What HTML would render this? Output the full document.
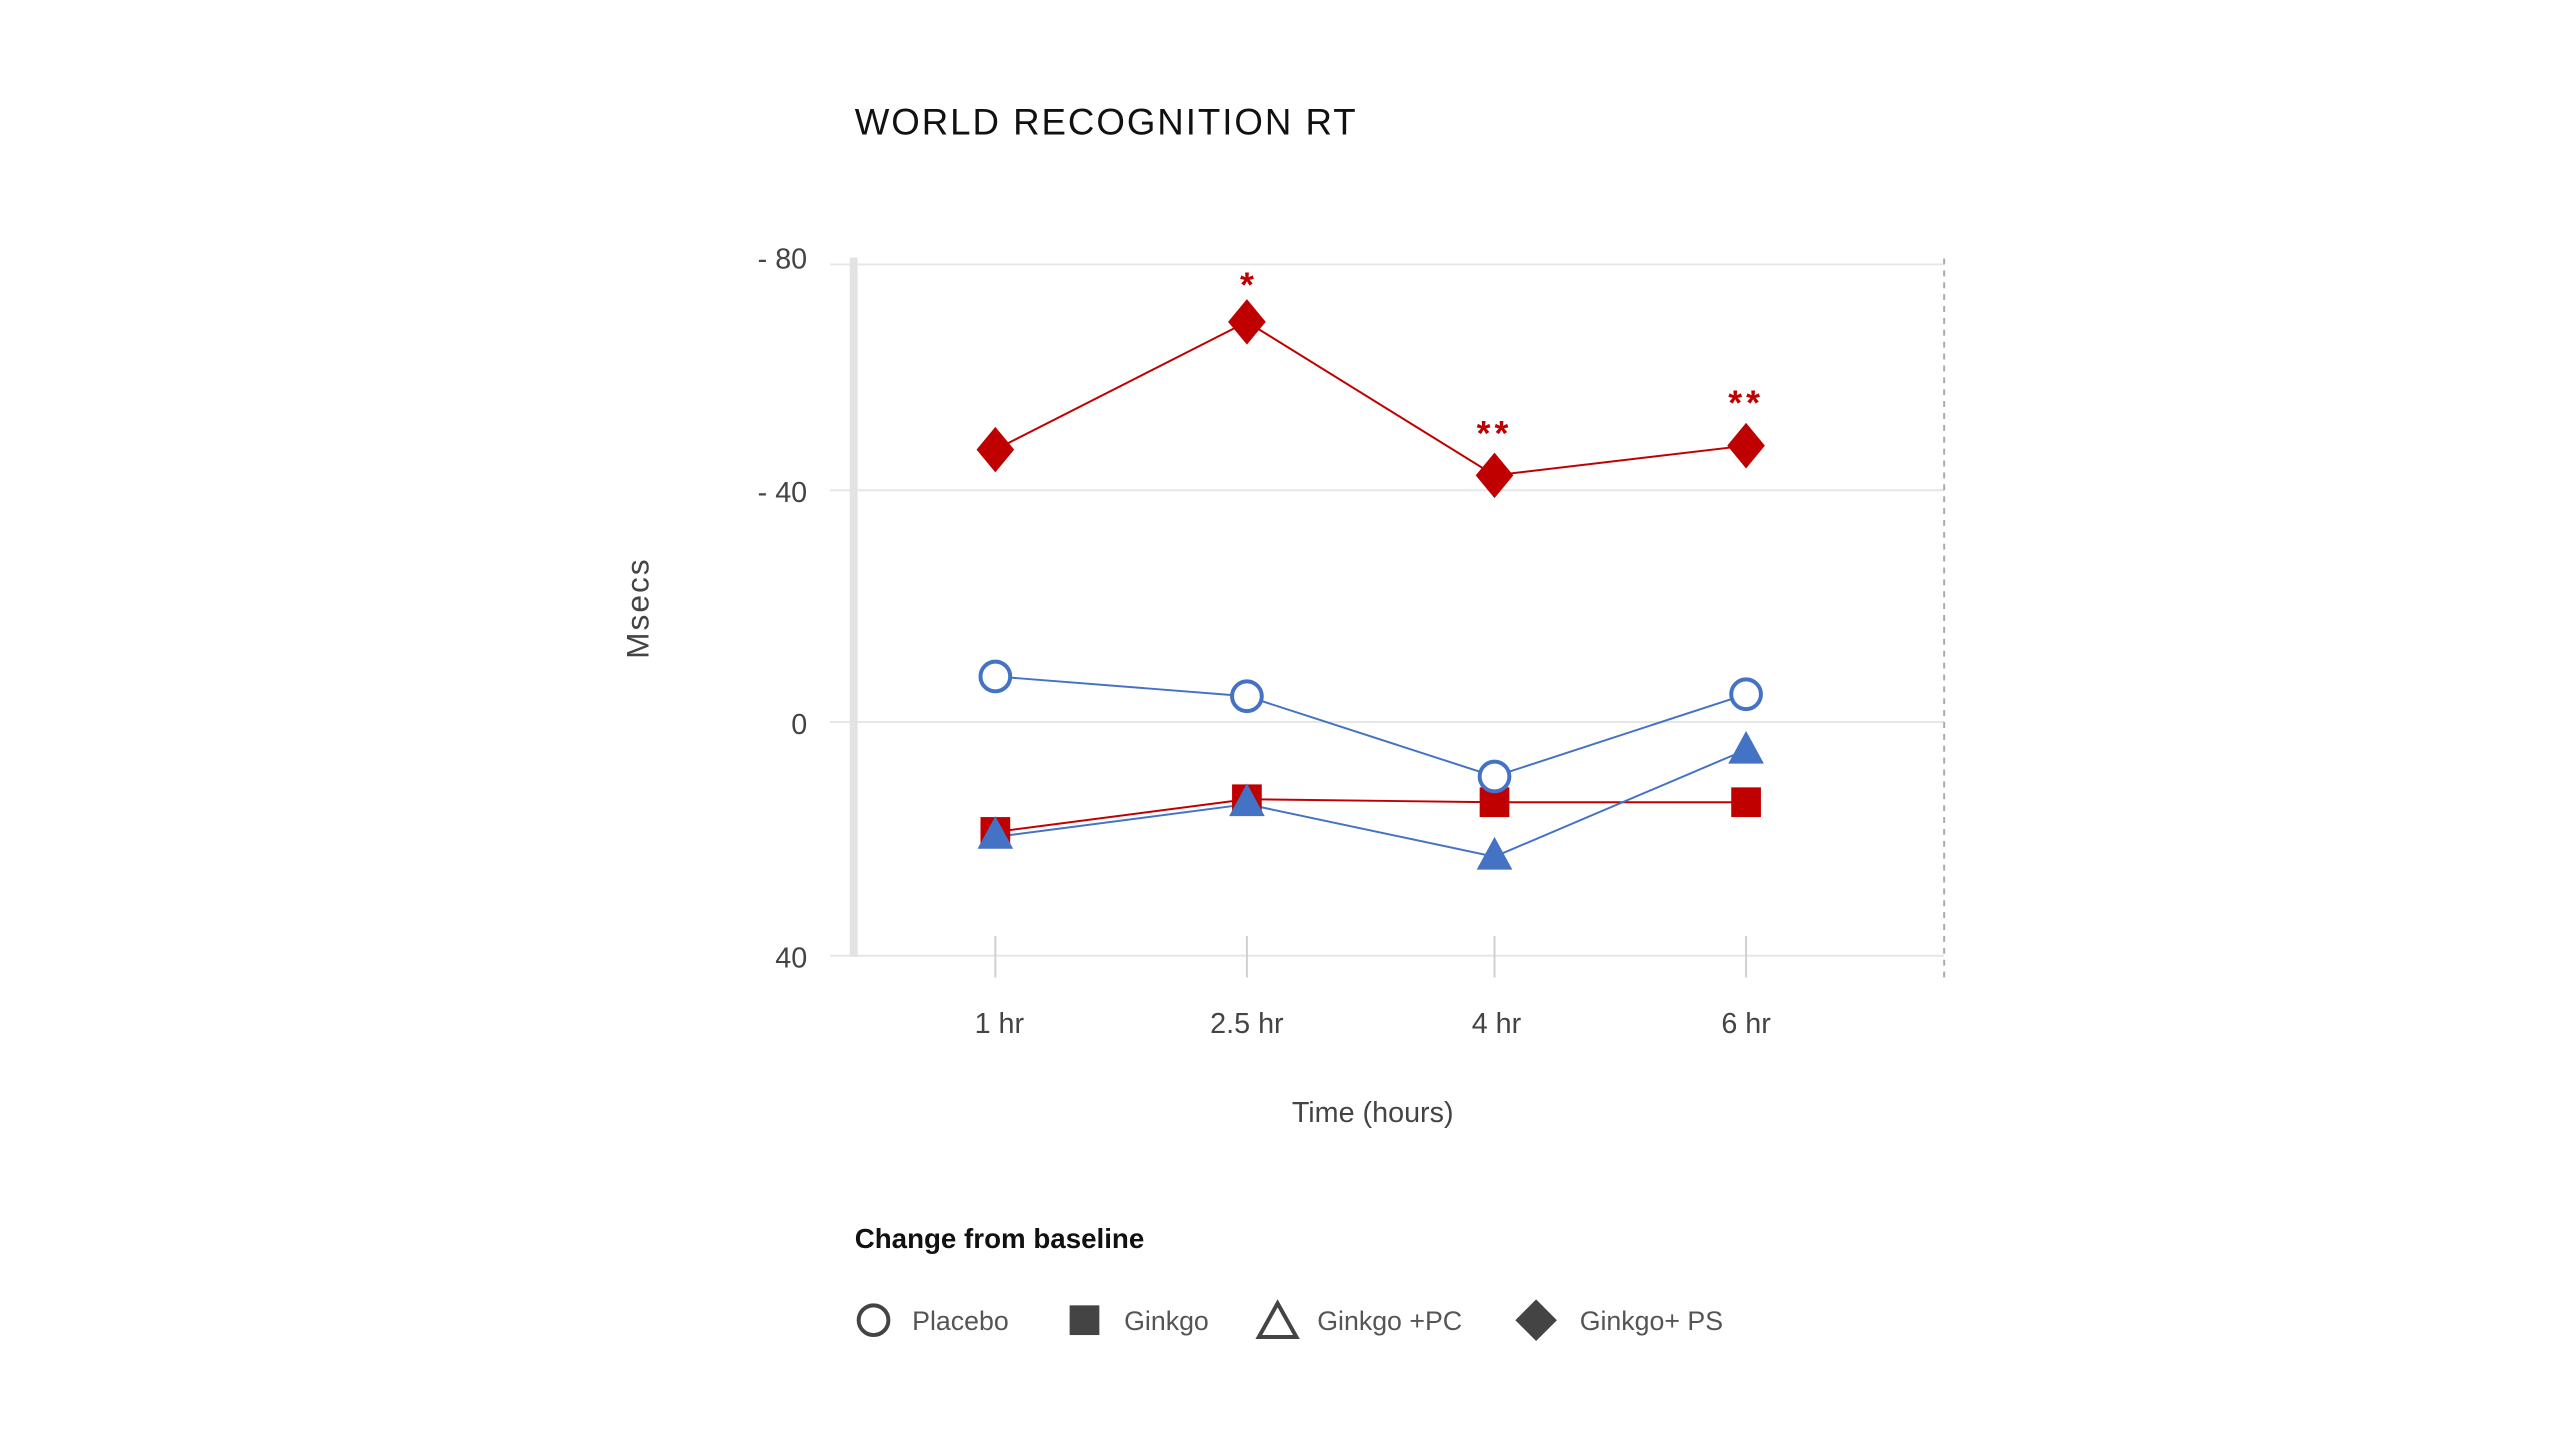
<!DOCTYPE html>
<html><head><meta charset="utf-8"><style>
html,body{margin:0;padding:0;background:#fff;}
svg{display:block;}
text{font-family:"Liberation Sans",sans-serif;}
</style></head><body>
<svg width="2560" height="1440" viewBox="0 0 2560 1440" xmlns="http://www.w3.org/2000/svg">
<g transform="scale(0.9904)">
<text x="863" y="136" font-size="37" fill="#111" letter-spacing="2">WORLD RECOGNITION RT</text>
<g stroke="#e6e6e6" stroke-width="2">
<line x1="838" y1="267" x2="1963" y2="267"/>
<line x1="838" y1="495" x2="1963" y2="495"/>
<line x1="838" y1="729" x2="1963" y2="729"/>
<line x1="838" y1="965" x2="1963" y2="965"/>
</g>
<rect x="858" y="260" width="8" height="706" fill="#e3e3e3"/>
<line x1="1963" y1="261" x2="1963" y2="990" stroke="#aaa" stroke-width="2" stroke-dasharray="6,6"/>
<g stroke="#d0d0d0" stroke-width="2">
<line x1="1005" y1="945" x2="1005" y2="987"/>
<line x1="1259" y1="945" x2="1259" y2="987"/>
<line x1="1509" y1="945" x2="1509" y2="987"/>
<line x1="1763" y1="945" x2="1763" y2="987"/>
</g>
<g font-size="29" fill="#444" text-anchor="end">
<text x="815" y="271">- 80</text>
<text x="815" y="507">- 40</text>
<text x="815" y="741">0</text>
<text x="815" y="977">40</text>
</g>
<g font-size="29" fill="#444" text-anchor="middle">
<text x="1009" y="1043">1 hr</text>
<text x="1259" y="1043">2.5 hr</text>
<text x="1511" y="1043">4 hr</text>
<text x="1763" y="1043">6 hr</text>
<text x="1386" y="1133">Time (hours)</text>
</g>
<text transform="translate(655,614) rotate(-90)" font-size="32" fill="#444" text-anchor="middle" letter-spacing="2">Msecs</text>
<polyline points="1005,454 1259,325 1509,480 1763,450" fill="none" stroke="#c00000" stroke-width="2"/>
<polyline points="1005,683 1259,703 1509,784 1763,701" fill="none" stroke="#4472c4" stroke-width="2"/>
<polyline points="1005,840 1259,807 1509,810 1763,810" fill="none" stroke="#c00000" stroke-width="2"/>
<polyline points="1005,845 1259,812 1509,865 1763,757" fill="none" stroke="#4472c4" stroke-width="2"/>
<g fill="#c00000">
<rect x="990" y="825" width="30" height="30"/>
<rect x="1244" y="792" width="30" height="30"/>
<rect x="1494" y="795" width="30" height="30"/>
<rect x="1748" y="795" width="30" height="30"/>
</g>
<g fill="#4472c4">
<polygon points="1005,824 987,857 1023,857"/>
<polygon points="1259,791 1241,824 1277,824"/>
<polygon points="1509,845 1491,878 1527,878"/>
<polygon points="1763,738 1745,771 1781,771"/>
</g>
<g fill="#fff" stroke="#4472c4" stroke-width="4">
<circle cx="1005" cy="683" r="15"/>
<circle cx="1259" cy="703" r="15"/>
<circle cx="1509" cy="784" r="15"/>
<circle cx="1763" cy="701" r="15"/>
</g>
<g fill="#c00000">
<polygon points="1005,431 1024,454 1005,477 986,454"/>
<polygon points="1259,302 1278,325 1259,348 1240,325"/>
<polygon points="1509,457 1528,480 1509,503 1490,480"/>
<polygon points="1763,427 1782,450 1763,473 1744,450"/>
</g>
<g font-size="36" font-weight="bold" fill="#c00000" text-anchor="middle">
<text x="1259" y="300">*</text>
<text x="1509" y="450" letter-spacing="4">**</text>
<text x="1763" y="419" letter-spacing="4">**</text>
</g>
<text x="863" y="1260" font-size="28" fill="#111" font-weight="bold">Change from baseline</text>
<circle cx="882" cy="1333" r="15" fill="none" stroke="#444" stroke-width="4"/>
<text x="921" y="1343" font-size="27" fill="#555">Placebo</text>
<rect x="1080" y="1318" width="30" height="30" fill="#444"/>
<text x="1135" y="1343" font-size="27" fill="#555">Ginkgo</text>
<polygon points="1290,1316 1309,1350 1271,1350" fill="none" stroke="#444" stroke-width="4"/>
<text x="1330" y="1343" font-size="27" fill="#555">Ginkgo +PC</text>
<polygon points="1551,1312 1572,1333 1551,1354 1530,1333" fill="#444"/>
<text x="1595" y="1343" font-size="27" fill="#555">Ginkgo+ PS</text>
</g>
</svg>
</body></html>
